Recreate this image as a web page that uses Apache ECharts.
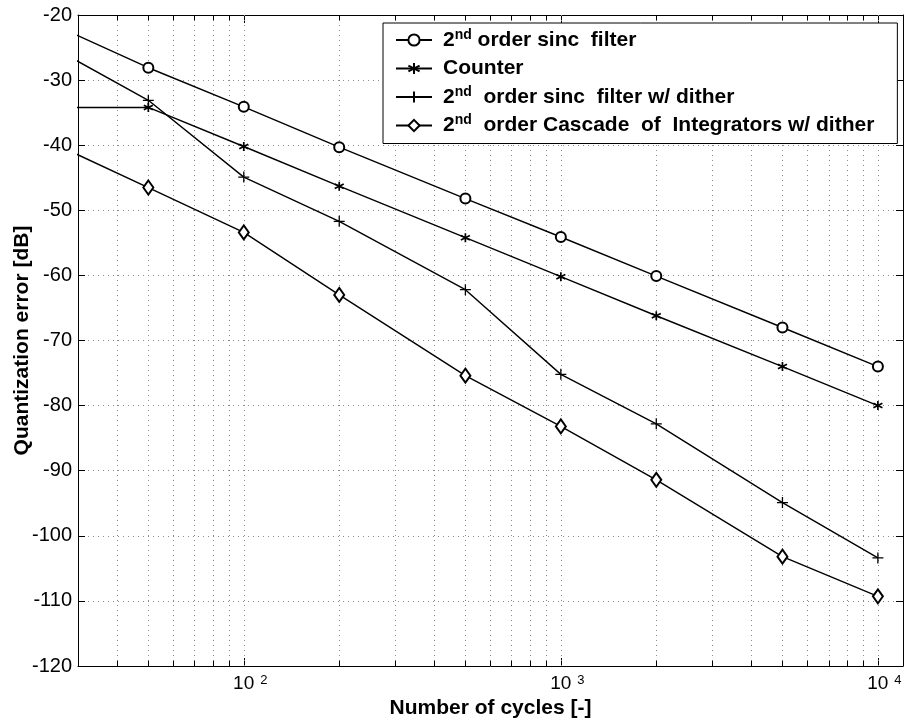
<!DOCTYPE html>
<html>
<head>
<meta charset="utf-8">
<script src="https://cdn.jsdelivr.net/npm/echarts@6/dist/echarts.min.js"></script>
<style>
  html, body { margin: 0; padding: 0; background: #fff; }
  #chart { width: 906px; height: 725px; }
</style>
</head>
<body>
<div id="chart"></div>
<script>
// number of cycles (first point lies left of the visible range and is clipped)
const cycles = [20, 50, 100, 200, 500, 1000, 2000, 5000, 10000];
const sincFilter = [-19.3, -28.1, -34.1, -40.3, -48.2, -54.1, -60.1, -68.0, -74.0];
const counter = [-34.2, -34.2, -40.2, -46.3, -54.2, -60.2, -66.2, -74.0, -80.0];
const sincDither = [-22.4, -33.1, -44.9, -51.7, -62.2, -75.2, -82.8, -94.9, -103.4];
const cascadeDither = [-37.5, -46.5, -53.4, -63.0, -75.4, -83.2, -91.4, -103.2, -109.3];

const seriesNames = [
  '2nd order sinc  filter',
  'Counter',
  '2nd  order sinc  filter w/ dither',
  '2nd  order Cascade  of  Integrators w/ dither'
];

// log grid positions
const majorTicks = [100, 1000, 10000];
const minorTicks = [40, 50, 60, 70, 80, 90, 200, 300, 400, 500, 600, 700, 800, 900,
  2000, 3000, 4000, 5000, 6000, 7000, 8000, 9000];

const FONT = 'Liberation Sans';
const xMin = 30, xMax = 12000, yMin = -120, yMax = -20;

const pair = (xs, ys) => xs.map((x, i) => [x, ys[i]]);

const asterisk = 'path://M0,-6L0,6M-5.2,-3L5.2,3M-5.2,3L5.2,-3';
const plus = 'path://M0,-6L0,6M-6,0L6,0';

function mkSeries(name, data, symbol, size, bw) {
  return {
    name: name,
    type: 'line',
    data: pair(cycles, data),
    symbol: symbol,
    symbolSize: size,
    showAllSymbol: true,
    clip: true,
    z: 3,
    lineStyle: { color: '#000', width: 1.4 },
    itemStyle: { color: '#000', borderColor: '#000', borderWidth: bw },
    emphasis: { disabled: true }
  };
}

// dotted vertical grid + minor ticks on top and bottom edges
const gridLines = majorTicks.concat(minorTicks).map(x => ({ xAxis: x }));
const tickLen = 0.8; // in dB units (~5px)
const minorMarks = [];
minorTicks.forEach(x => {
  minorMarks.push([{ coord: [x, yMin] }, { coord: [x, yMin + tickLen] }]);
  minorMarks.push([{ coord: [x, yMax] }, { coord: [x, yMax - tickLen] }]);
});

const legendLabel = {
  '2nd order sinc  filter': '2{sup|nd} order sinc  filter',
  'Counter': 'Counter',
  '2nd  order sinc  filter w/ dither': '2{sup|nd}  order sinc  filter w/ dither',
  '2nd  order Cascade  of  Integrators w/ dither': '2{sup|nd}  order Cascade  of  Integrators w/ dither'
};

const gridDots = { color: '#8a8a8a', type: [1, 4], width: 1 };

const option = {
  backgroundColor: '#fff',
  animation: false,
  grid: { left: 78, right: 3, top: 15, bottom: 59, containLabel: false, outerBoundsMode: 'none' },
  legend: {
    data: seriesNames,
    orient: 'vertical',
    left: 383,
    top: 23,
    padding: [5, 23, 6, 12],
    itemWidth: 36,
    itemHeight: 14,
    itemGap: 4.5,
    backgroundColor: '#fff',
    borderColor: '#000',
    borderWidth: 1,
    selectedMode: false,
    formatter: name => legendLabel[name],
    textStyle: {
      fontFamily: FONT, fontSize: 21, fontWeight: 'bold', color: '#000', lineHeight: 24,
      padding: [0, 0, 0, 6],
      rich: {
        sup: { fontFamily: FONT, fontSize: 14, fontWeight: 'bold', color: '#000', verticalAlign: 'top', lineHeight: 14 }
      }
    }
  },
  xAxis: [
    {
      type: 'log',
      logBase: 10,
      min: xMin,
      max: xMax,
      position: 'bottom',
      name: 'Number of cycles [-]',
      nameLocation: 'middle',
      nameGap: 26,
      nameTextStyle: { fontFamily: FONT, fontSize: 21, fontWeight: 'bold', color: '#000' },
      axisLine: { show: true, lineStyle: { color: '#000', width: 1 } },
      axisTick: { show: true, inside: true, length: 8, lineStyle: { color: '#000' } },
      splitLine: { show: false },
      axisLabel: {
        show: true,
        showMinLabel: false,
        showMaxLabel: false,
        margin: 8,
        color: '#000',
        fontFamily: FONT,
        fontSize: 19,
        formatter: v => '{pad|}10{gap|}{sup|' + Math.round(Math.log10(v)) + '}',
        rich: {
          pad: { width: 13 },
          gap: { width: 6 },
          sup: { fontFamily: FONT, fontSize: 13, color: '#000', verticalAlign: 'top', lineHeight: 12 }
        }
      }
    },
    {
      type: 'log',
      logBase: 10,
      min: xMin,
      max: xMax,
      position: 'top',
      axisLine: { show: true, lineStyle: { color: '#000', width: 1 } },
      axisTick: { show: true, inside: true, length: 8, lineStyle: { color: '#000' } },
      axisLabel: { show: false },
      splitLine: { show: false }
    }
  ],
  yAxis: [
    {
      type: 'value',
      min: yMin,
      max: yMax,
      interval: 10,
      position: 'left',
      name: 'Quantization error [dB]',
      nameLocation: 'middle',
      nameGap: 45,
      nameMoveOverlap: false,
      nameTextStyle: { fontFamily: FONT, fontSize: 21, fontWeight: 'bold', color: '#000' },
      axisLine: { show: true, lineStyle: { color: '#000', width: 1 } },
      axisTick: { show: true, inside: true, length: 7, lineStyle: { color: '#000' } },
      axisLabel: { color: '#000', fontFamily: FONT, fontSize: 20, margin: 6 },
      splitLine: { show: true, lineStyle: gridDots }
    },
    {
      type: 'value',
      min: yMin,
      max: yMax,
      interval: 10,
      position: 'right',
      axisLine: { show: true, lineStyle: { color: '#000', width: 1 } },
      axisTick: { show: true, inside: true, length: 7, lineStyle: { color: '#000' } },
      axisLabel: { show: false },
      splitLine: { show: false }
    }
  ],
  series: [
    {
      name: 'grid',
      type: 'line',
      data: [],
      silent: true,
      z: 1,
      markLine: {
        silent: true,
        z: 1,
        symbol: 'none',
        animation: false,
        label: { show: false },
        emphasis: { disabled: true },
        lineStyle: gridDots,
        data: gridLines
      }
    },
    {
      name: 'ticks',
      type: 'line',
      data: [],
      silent: true,
      z: 2,
      markLine: {
        silent: true,
        z: 2,
        symbol: 'none',
        animation: false,
        label: { show: false },
        emphasis: { disabled: true },
        lineStyle: { color: '#000', type: 'solid', width: 1 },
        data: minorMarks
      }
    },
    mkSeries(seriesNames[0], sincFilter, 'emptyCircle', 10, 1.2),
    mkSeries(seriesNames[1], counter, asterisk, 9, 1.7),
    mkSeries(seriesNames[2], sincDither, plus, 11, 1.3),
    mkSeries(seriesNames[3], cascadeDither, 'emptyDiamond', [10, 14], 1.2)
  ]
};

const chart = echarts.init(document.getElementById('chart'), null, { renderer: 'canvas' });
chart.setOption(option);
</script>
</body>
</html>
